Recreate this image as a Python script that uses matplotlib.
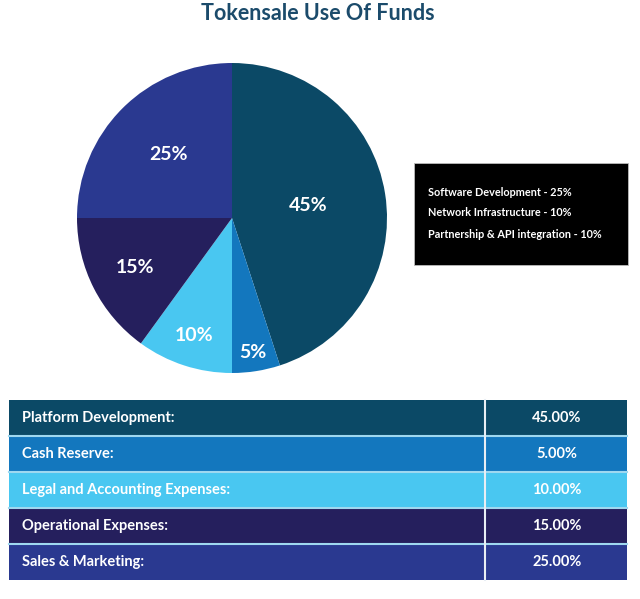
import matplotlib.pyplot as plt
from matplotlib.patches import Rectangle
import numpy as np

plt.rcParams['font.family'] = ['Lato', 'DejaVu Sans']

title = "Tokensale Use Of Funds"
categories = ["Platform Development:", "Cash Reserve:", "Legal and Accounting Expenses:",
              "Operational Expenses:", "Sales & Marketing:"]
shares = [45, 5, 10, 15, 25]
colors = ["#0b4966", "#1377be", "#49c7f1", "#251f5d", "#2a3990"]
note_lines = ["Software Development - 25%", "Network Infrastructure - 10%",
              "Partnership & API integration - 10%"]

# label distance from centre, per wedge
label_r = [0.5, 0.88, 0.8, 0.7, 0.58]

W, H = 640, 599
fig = plt.figure(figsize=(W / 100, H / 100), dpi=100)
fig.patch.set_facecolor("white")

# overlay axes in pixel coords (y down)
bg = fig.add_axes([0, 0, 1, 1])
bg.set_xlim(0, W)
bg.set_ylim(H, 0)
bg.axis("off")

bg.text(318, 14, title, ha="center", va="center", fontsize=15.5,
        fontweight="bold", color="#1b4b6b")

# pie
cx, cy, R = 232, 218, 155
ax = fig.add_axes([(cx - R) / W, 1 - (cy + R) / H, 2 * R / W, 2 * R / H])
wedges, _ = ax.pie(shares, colors=colors, startangle=90, counterclock=False,
                   radius=1, wedgeprops=dict(linewidth=0))
ax.set_xlim(-1, 1)
ax.set_ylim(-1, 1)
ax.set_aspect("equal")
ax.axis("off")

for w, s, r in zip(wedges, shares, label_r):
    ang = np.deg2rad((w.theta1 + w.theta2) / 2)
    ax.text(r * np.cos(ang), r * np.sin(ang), f"{s}%", ha="center", va="center",
            fontsize=14, fontweight="bold", color="white")

# black note box
bg.add_patch(Rectangle((414, 163), 214, 102, facecolor="black", edgecolor="#bbbbbb", lw=0.6))
for i, line in enumerate(note_lines):
    bg.text(428, 192 + i * 21, line, ha="left", va="center", fontsize=7.8,
            fontweight="bold", color="white")

# table
top, row_h = 400, 36
left, split, right = 9, 485, 627
for i, (cat, s, c) in enumerate(zip(categories, shares, colors)):
    y = top + i * row_h
    bg.add_patch(Rectangle((left, y), right - left, row_h, facecolor=c,
                           edgecolor="none"))
    bg.text(22, y + row_h / 2, cat, ha="left", va="center", fontsize=10.5,
            fontweight="bold", color="white")
    bg.text(557, y + row_h / 2, f"{s:.2f}%", ha="center", va="center", fontsize=10.5,
            fontweight="bold", color="white")
    if i > 0:
        bg.plot([left, right], [y, y], color="#9fd8f0", lw=1.5)
bg.plot([split, split], [top, top + row_h * len(categories)], color="#e8eef4", lw=1.5)

fig.savefig("out.png", dpi=100)
